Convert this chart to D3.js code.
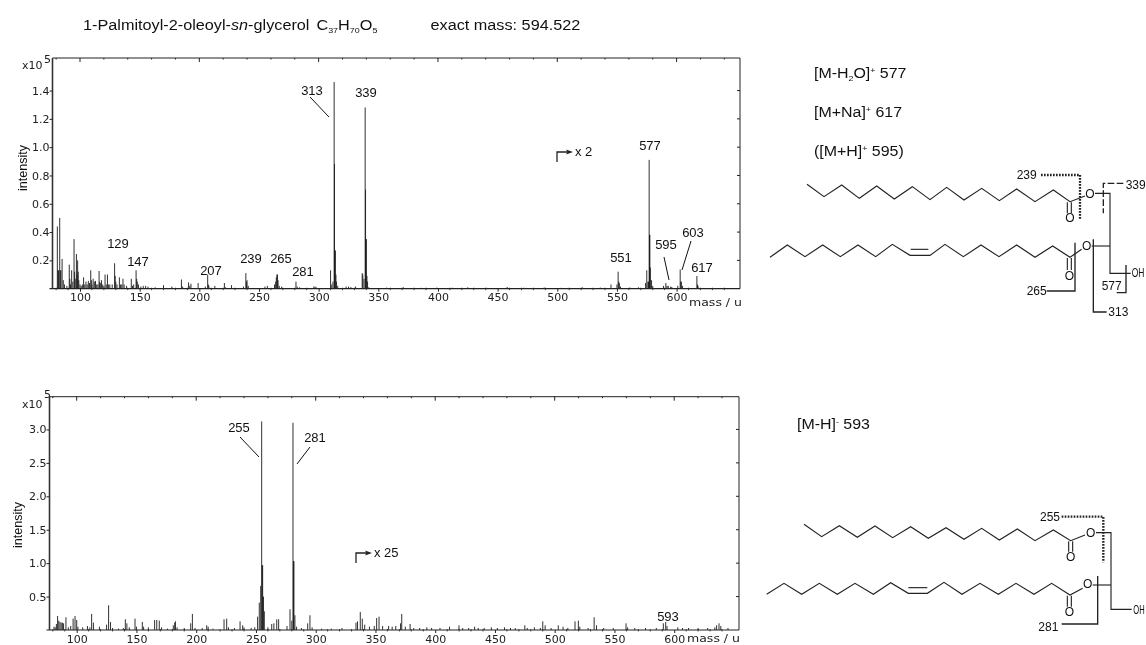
<!DOCTYPE html>
<html><head><meta charset="utf-8">
<script src="https://cdnjs.cloudflare.com/ajax/libs/d3/7.8.5/d3.min.js"></script>
<style>html,body{margin:0;background:#fff}svg{display:block;filter:blur(.3px)}text{font-family:"Liberation Sans",Arial,sans-serif;fill:#111}.tl{font-family:"DejaVu Sans",sans-serif;font-size:11px;fill:#222}</style>
</head><body><svg id="c" width="1146" height="645"></svg>
<script>
// positive-ion spectrum (m/z, intensity x10^5)
const posMz=[81,81.5,82,83,83.5,84,85,86,87,89,91,91.5,92,93,94,95,95.5,96,97,97.5,98,98.5,99,100,101,102,103,104,105,106,107,108,109,109.5,110,111,112,113,114,115,116,116.5,117,118,119,120,121,122,123,124,125,127,129,129.5,130,131,133,134,135,136,137,139,143,144,145,147,147.5,148,149,151,153,155,157,163,170,177,185,186,191,192,193,199,205,207,207.5,208,213,221,222,227,237,239,239.5,240,241,255,257,263,264,264.5,265,265.5,266,267,269,281,282,284,296,297,298,310,311,312,313,313.3,313.6,314,314.5,315,316,323,325,327,331,336.5,337,338,339,339.3,339.6,340,340.5,341,342,357,371,386,399,412,425,441,458,472,489,503,521,536,545,550,551,551.5,552,553,561,568,574,575,576,576.5,577,577.3,577.6,578,579,580,589,591,592,593,595,596,601,603,603.5,604,605,617,617.5,618];
const posInt=[.44,.13,.13,.50,.13,.13,.21,.06,.03,.02,.17,.07,.03,.13,.05,.35,.12,.07,.245,.1,.2,.12,.06,.03,.02,.03,.08,.03,.05,.03,.055,.04,.13,.06,.03,.07,.05,.055,.03,.03,.125,.05,.04,.06,.03,.02,.10,.03,.10,.03,.03,.03,.18,.09,.05,.03,.08,.03,.03,.07,.03,.02,.07,.02,.03,.13,.07,.05,.03,.015,.02,.02,.015,.01,.025,.015,.065,.015,.045,.02,.035,.04,.015,.1,.03,.02,.02,.04,.01,.025,.015,.11,.05,.06,.02,.015,.02,.03,.05,.08,.1,.1,.06,.02,.015,.05,.015,.01,.015,.015,.01,.13,.03,.05,1.46,.88,.27,.27,.1,.05,.02,.015,.015,.012,.015,.11,.1,.07,1.28,.7,.35,.35,.09,.05,.01,.008,.01,.006,.008,.007,.01,.006,.012,.007,.008,.006,.01,.008,.03,.03,.12,.05,.04,.015,.008,.01,.04,.13,.05,.05,.91,.38,.38,.15,.06,.02,.02,.04,.02,.02,.015,.012,.02,.135,.05,.05,.02,.09,.03,.02];
// negative-ion spectrum
const negMz=[81,82,83,84,85,86,87,88,89,91,93,95,97,98.6,100,101,105,109,111,112.5,114,119,125,126.7,128.3,130,135,139,140.7,142,144,148.8,150,154.9,156,160,165.2,167,169.1,171,176,180.8,182,182.6,184,190,195.4,196.8,199,205,208.8,210,214,223.3,225.5,227,232,236.7,238.9,240,246,249,251.4,252.8,254,254.8,255.2,255.6,256.3,257,260,263.2,265,267.4,269,276,278.5,280,281,281.4,281.8,282.6,284,288,293.3,295.2,297,305,313,322,333.7,335,337.3,339,341,345,349,351,353,356,361,364,367,371,372,375,379,382,387,393,397,404,412,419.9,423,428,433,436,441,447,452,458,463,467,475,477,483,488,490,492,497,503,507,511,517,519.8,521,528,533,535,541,549,559.7,561,567,576,585,590.9,592.9,594,603,607,612,620,628,634,635.5,637.5,639,645];
const negInt=[.05,.04,.09,.21,.14,.12,.11,.11,.1,.19,.04,.06,.17,.21,.15,.05,.04,.06,.04,.24,.11,.05,.08,.37,.12,.03,.02,.03,.16,.1,.04,.17,.05,.12,.05,.04,.15,.15,.14,.04,.02,.07,.11,.13,.04,.03,.10,.24,.03,.03,.07,.05,.02,.16,.17,.04,.03,.13,.07,.04,.03,.04,.2,.41,.66,3.12,.97,.97,.5,.28,.04,.09,.1,.16,.16,.06,.31,.14,3.10,1.03,1.03,.22,.05,.03,.1,.22,.04,.02,.02,.03,.11,.13,.27,.17,.08,.05,.06,.18,.2,.06,.06,.05,.06,.1,.24,.05,.09,.03,.03,.04,.03,.03,.05,.07,.03,.03,.05,.03,.03,.04,.03,.04,.03,.03,.07,.03,.04,.03,.13,.07,.03,.07,.05,.03,.13,.14,.05,.03,.19,.07,.03,.03,.1,.04,.03,.03,.03,.1,.12,.06,.04,.03,.03,.03,.03,.04,.07,.1,.06,.03];
const xTicks=[100,150,200,250,300,350,400,450,500,550,600];
const posY=[.2,.4,.6,.8,1.0,1.2,1.4];
const negY=[.5,1.0,1.5,2.0,2.5,3.0];
const posLabels=[129,147,207,239,265,281,313,339,551,577,595,603,617];
const negLabels=[255,281,593];

const svg=d3.select("#c");
function panel(o){
  const x=d3.scaleLinear().domain([100,600]).range(o.xr);
  const y=d3.scaleLinear().domain([0,o.yTop]).range([o.base,o.top]);
  const g=svg.append("g");
  // peaks
  g.append("g").selectAll("line").data(o.mz).join("line")
    .attr("x1",d=>x(d)).attr("x2",d=>x(d)).attr("y1",o.base)
    .attr("y2",(d,i)=>y(o.val[i])).attr("stroke","#1a1a1a").attr("stroke-width",.9);
  // frame
  g.append("path").attr("d",`M${o.left},${o.base}V${o.top}H${o.right}V${o.base}`).attr("fill","none").attr("stroke","#222").attr("stroke-width",1);
  g.append("line").attr("x1",o.left).attr("x2",o.left).attr("y1",o.top).attr("y2",o.base).attr("stroke","#333").attr("stroke-width",1.6);
  g.append("line").attr("x1",o.left-3).attr("x2",o.right).attr("y1",o.base).attr("y2",o.base).attr("stroke","#222").attr("stroke-width",1.2);
  // bottom axis
  const ax=g.append("g").attr("transform",`translate(0,${o.base})`)
    .call(d3.axisBottom(x).tickValues(xTicks).tickFormat(d3.format("d")).tickSize(3).tickPadding(2));
  ax.select(".domain").remove();
  ax.selectAll("line").attr("stroke","#222");
  ax.selectAll("text").attr("class","tl").attr("fill",null);
  ax.attr("font-family",null).attr("font-size",null);
  const minor=d3.range(80,650,10).filter(d=>d%50!==0 && x(d)<o.right);
  g.append("g").selectAll("line").data(minor).join("line").attr("x1",x).attr("x2",x)
    .attr("y1",o.base-1).attr("y2",o.base+1.5).attr("stroke","#222").attr("stroke-width",.8);
  // top ticks
  const topT=d3.range(80,650,20).filter(d=>x(d)<o.right);
  g.append("g").selectAll("line").data(topT).join("line").attr("x1",x).attr("x2",x)
    .attr("y1",o.top).attr("y2",d=>o.top+(d%100===0?4:1.5)).attr("stroke","#222");
  // left axis
  const ay=g.append("g").attr("transform",`translate(${o.left},0)`)
    .call(d3.axisLeft(y).tickValues(o.yt).tickFormat(d3.format(".1f")).tickSize(3).tickPadding(0));
  ay.select(".domain").remove();
  ay.selectAll("line").attr("stroke","#222");
  ay.selectAll("text").attr("class","tl").attr("fill",null);
  ay.attr("font-family",null).attr("font-size",null);
  g.append("g").selectAll("line").data(o.yt).join("line").attr("x1",o.right-3).attr("x2",o.right)
    .attr("y1",y).attr("y2",y).attr("stroke","#222");
  // exponent and axis titles
  g.append("text").attr("class","tl").attr("x",22).attr("y",o.expY).text("x10");
  g.append("text").attr("class","tl").attr("x",o.expX).attr("y",o.expSup).text("5");
  g.append("text").attr("transform",`translate(${o.ylabX},${o.ylabY}) rotate(-90)`).attr("text-anchor","middle").attr("font-size",12.5).text("intensity");
  g.append("text").attr("class","tl").attr("x",o.massX).attr("y",o.massY).attr("textLength",53).attr("lengthAdjust","spacingAndGlyphs").text("mass / u");
  // peak labels
  g.append("g").selectAll("text").data(o.labels).join("text")
    .attr("text-anchor","middle").attr("font-size",13).attr("x",(d,i)=>o.lab[i][0]).attr("y",(d,i)=>o.lab[i][1]).text(d=>d);
  o.leaders.forEach(l=>g.append("line").attr("x1",l[0]).attr("y1",l[1]).attr("x2",l[2]).attr("y2",l[3]).attr("stroke","#111").attr("stroke-width",1));
  // magnification marker
  const m=o.mark;
  g.append("path").attr("d",`M${m[0]},${m[1]+10}V${m[1]}H${m[0]+11}`).attr("fill","none").attr("stroke","#222").attr("stroke-width",1.3);
  g.append("path").attr("d",`M${m[0]+16},${m[1]}l-7,-2.5l1.5,2.5l-1.5,2.5z`).attr("fill","#222");
  g.append("text").attr("x",m[0]+18).attr("y",m[1]+3.5).attr("font-size",13).text(m[2]);
}
panel({xr:[80,676.6],yTop:1.63,base:288.7,top:58,left:52.5,right:740,mz:posMz,val:posInt,yt:posY,expY:69,expX:44,expSup:63,
  ylabX:27,ylabY:168,massX:689,massY:306,labels:posLabels,
  lab:[[118,248],[138,266],[211,275],[251,263],[281,263],[303,276],[312,95],[366,97],[621,262],[650,150],[666,249],[693,237],[702,272]],
  leaders:[[310,97,329,117],[664,257,669,280],[691,241,682,270]],mark:[557,152,"x 2"]});
panel({xr:[76.7,674.2],yTop:3.49,base:630,top:396.7,left:49.5,right:739,mz:negMz,val:negInt,yt:negY,expY:408,expX:44,expSup:398,
  ylabX:22,ylabY:525,massX:687,massY:642,labels:negLabels,
  lab:[[239,432],[315,442],[668,621]],
  leaders:[[240,437,259,457],[310,447,297,464]],mark:[356,553,"x 25"]});

// header: the reference's text is stretched sideways
function rich(x,y,size,sx,parts){
  const t=svg.append("text").attr("transform",`translate(${x},${y}) scale(${sx},1)`).attr("font-size",size);
  parts.forEach(p=>{const s=t.append("tspan").text(p.t);
    if(p.i)s.attr("font-style","italic");
    if(p.s){s.attr("font-size",size*.55).attr("dy",p.s)}
    if(p.b)s.attr("dy",p.b);
    if(p.dx)s.attr("dx",p.dx);});
}
rich(83,30,14,1.16,[{t:"1-Palmitoyl-2-oleoyl-"},{t:"sn",i:1},{t:"-glycerol"},{t:"C",dx:6},{t:"37",s:3},{t:"H",b:-3},{t:"70",s:3},{t:"O",b:-3},{t:"5",s:3}]);
rich(430.5,30,14,1.16,[{t:"exact mass: 594.522"}]);
rich(814,78,14.5,1.1,[{t:"[M-H"},{t:"2",s:3},{t:"O]",b:-3},{t:"+",s:-5},{t:" 577",b:5}]);
rich(814,117,14.5,1.1,[{t:"[M+Na]"},{t:"+",s:-5},{t:"  617",b:5}]);
rich(814,156,14.5,1.1,[{t:"([M+H]"},{t:"+",s:-5},{t:"  595)",b:5}]);
rich(797,429,14.5,1.1,[{t:"[M-H]"},{t:"-",s:-5},{t:" 593",b:5}]);

// structures: coordinates in thirds of a pixel from a local origin
const lineGen=d3.line();
function structure(ox,oy,s){
  const g=svg.append("g").attr("transform",`translate(${ox},${oy}) scale(${1/3})`);
  const draw=(pts,w,dash)=>g.append("path").attr("d",lineGen(pts)).attr("fill","none").attr("stroke",s.col||"#222").attr("stroke-width",w).attr("stroke-dasharray",dash||null);
  s.bonds.forEach(b=>draw(b,3.4));
  s.dots.forEach(b=>draw(b,7,"5 4"));
  (s.dash||[]).forEach(b=>draw(b,4,"20 7"));
  s.frag.forEach(b=>draw(b,4));
  s.text.forEach(t=>{const e=g.append("text").attr("x",t[0]).attr("y",t[1]).attr("text-anchor",t[3]||"middle").attr("font-size",t[4]||36).text(t[2]);
    if(t[5])e.attr("textLength",t[5]).attr("lengthAdjust","spacingAndGlyphs");});
}
structure(760,150,{
  bonds:[
   [[141,103],[192,140],[245,105],[298,145],[350,108],[403,147],[457,110],[510,149],[560,112],[612,150],[665,115],[718,152],[770,117],[825,155],[880,120],[930,155],[975,138]],
   [[922,157],[922,190]],[[934,157],[934,190]],
   [[1005,130],[1050,130],[1050,370],[1112,370]],
   [[30,322],[82,285],[135,320],[188,285],[241,320],[294,285],[347,320],[397,283],[450,316],[510,316],[555,283],[610,320],[663,285],[717,320],[770,285],[825,322],[878,288],[930,322],[965,298]],
   [[452,298],[505,298]],
   [[922,324],[922,360]],[[934,324],[934,360]],
   [[995,288],[1050,288]]],
  dots:[[[843,75],[960,75],[960,210]]],
  dash:[[[1090,100],[1030,100],[1030,190]]],
  frag:[[[860,423],[945,423],[945,278]],[[1040,486],[1000,486],[1000,268]],[[1070,428],[1098,428],[1098,345]]],
  text:[[990,143,"O"],[930,217,"O"],[980,301,"O"],[928,390,"O"],[1115,382,"OH","start",36,38],[800,87,"239"],[1127,117,"339"],[830,435,"265"],[1075,498,"313"],[1055,419,"577"]]
});
structure(760,500,{
  bonds:[
   [[132,73],[185,110],[238,77],[292,112],[345,78],[398,113],[452,80],[505,115],[558,83],[612,118],[665,85],[718,120],[772,87],[825,122],[880,90],[932,122],[975,105]],
   [[926,124],[926,155]],[[938,124],[938,155]],
   [[1008,98],[1053,98],[1053,328],[1115,328]],
   [[20,283],[72,250],[125,283],[178,250],[232,283],[285,250],[340,283],[392,248],[445,280],[502,280],[552,247],[606,283],[660,250],[715,283],[768,250],[822,283],[875,250],[930,285],[968,265]],
   [[445,263],[502,263]],
   [[922,287],[922,320]],[[934,287],[934,320]],
   [[998,255],[1053,255]]],
  dots:[[[905,50],[1030,50],[1030,187]]],
  frag:[[[905,372],[1013,372],[1013,228]]],
  text:[[992,112,"O"],[932,182,"O"],[983,263,"O"],[928,348,"O"],[1120,342,"OH","start",36,34],[870,64,"255"],[865,392,"281"]]
});
</script></body></html>
